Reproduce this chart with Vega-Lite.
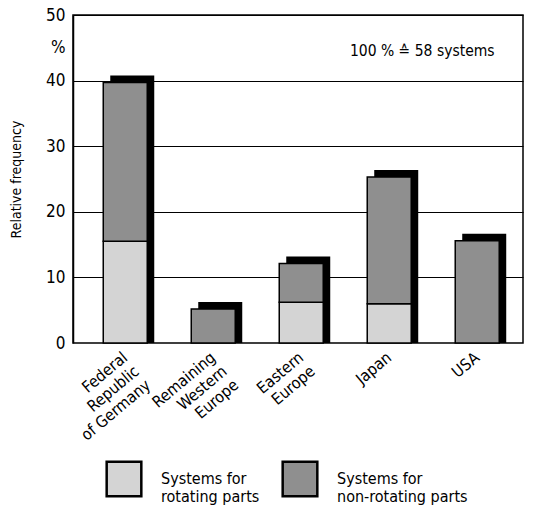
{
  "$schema": "https://vega.github.io/schema/vega-lite/v6.json",
  "width": 450,
  "height": 328,
  "autosize": "none",
  "padding": {"left": 73, "top": 15, "right": 10, "bottom": 170},
  "config": {
    "font": "'DejaVu Sans Condensed', 'Liberation Sans', sans-serif",
    "view": {"stroke": "black", "strokeWidth": 1.5},
    "axis": {"labelColor": "black", "titleColor": "black", "labelFont": "'DejaVu Sans Condensed', 'Liberation Sans', sans-serif", "titleFont": "'DejaVu Sans Condensed', 'Liberation Sans', sans-serif"},
    "legend": {"labelFont": "'DejaVu Sans Condensed', 'Liberation Sans', sans-serif", "labelColor": "black"},
    "text": {"font": "'DejaVu Sans Condensed', 'Liberation Sans', sans-serif"}
  },
  "data": {
    "values": [
      {"region": "Federal Republic of Germany", "type": "rotating parts", "value": 15.5},
      {"region": "Federal Republic of Germany", "type": "non-rotating parts", "value": 24.2},
      {"region": "Remaining Western Europe", "type": "non-rotating parts", "value": 5.2},
      {"region": "Eastern Europe", "type": "rotating parts", "value": 6.2},
      {"region": "Eastern Europe", "type": "non-rotating parts", "value": 5.9},
      {"region": "Japan", "type": "rotating parts", "value": 6.0},
      {"region": "Japan", "type": "non-rotating parts", "value": 19.3},
      {"region": "USA", "type": "non-rotating parts", "value": 15.6}
    ]
  },
  "layer": [
    {
      "mark": {"type": "bar", "color": "black", "xOffset": 7, "yOffset": -7},
      "encoding": {
        "x": {"field": "region", "type": "nominal", "sort": null,
              "scale": {"paddingInner": 0.5, "paddingOuter": 0.307, "align": 0.56},
              "axis": {"title": null, "labelAngle": -40, "labelAlign": "right", "labelBaseline": "middle",
                       "labelFontSize": 16, "ticks": false, "domain": false, "labelPadding": 12,
                       "labelExpr": "datum.label == 'Federal Republic of Germany' ? ['Federal', 'Republic', 'of Germany'] : datum.label == 'Remaining Western Europe' ? ['Remaining', 'Western', 'Europe'] : datum.label == 'Eastern Europe' ? ['Eastern', 'Europe'] : datum.label"}},
        "y": {"aggregate": "sum", "field": "value", "type": "quantitative",
              "scale": {"domain": [0, 50]},
              "axis": {"title": "Relative frequency", "titleFontSize": 14, "titleFontWeight": "normal", "titlePadding": 22,
                       "values": [0, 10, 20, 30, 40, 45, 50], "labelExpr": "datum.value == 45 ? '%' : datum.label",
                       "labelFontSize": 17, "ticks": false, "domain": true, "domainColor": "black", "domainWidth": 1.5,
                       "labelPadding": 8,
                       "grid": true, "gridColor": "black", "gridWidth": 1.2,
                       "gridOpacity": {"condition": {"test": "datum.value == 45 || datum.value == 0", "value": 0}, "value": 1}}}
      }
    },
    {
      "mark": {"type": "bar", "stroke": "black", "strokeWidth": 1.5},
      "encoding": {
        "x": {"field": "region", "type": "nominal", "sort": null},
        "y": {"field": "value", "type": "quantitative", "stack": "zero"},
        "order": {"field": "type", "sort": "descending"},
        "color": {"field": "type", "type": "nominal",
                  "scale": {"domain": ["rotating parts", "non-rotating parts"], "range": ["#d4d4d4", "#8f8f8f"]},
                  "legend": {"title": null, "orient": "none", "legendX": 32, "legendY": 445, "direction": "horizontal",
                             "symbolType": "square", "symbolSize": 1200, "symbolStrokeColor": "black", "symbolStrokeWidth": 2.5,
                             "symbolOpacity": 1,
                             "labelFontSize": 16, "labelOffset": 18, "columnPadding": 17, "labelLimit": 200,
                             "labelExpr": "['Systems for', datum.label]"}}
      }
    },
    {
      "data": {"values": [{"note": "100 % \u2259 58 systems"}]},
      "mark": {"type": "text", "fontSize": 15.5, "dx": 33, "dy": 3, "color": "black"},
      "encoding": {
        "x": {"datum": "Japan", "type": "nominal"},
        "y": {"datum": 45, "type": "quantitative"},
        "text": {"field": "note", "type": "nominal"}
      }
    }
  ]
}
